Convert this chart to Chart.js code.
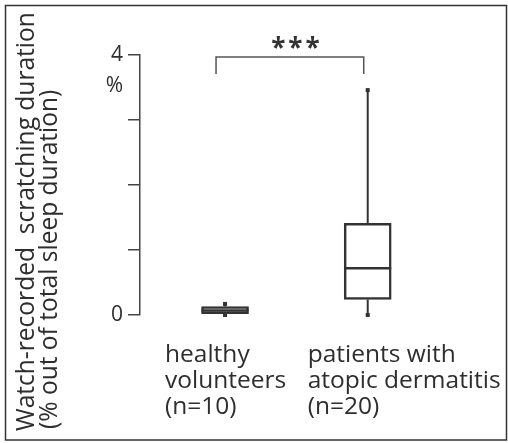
<!DOCTYPE html>
<html><head><meta charset="utf-8">
<script src="https://cdn.jsdelivr.net/npm/chart.js@4.4.1/dist/chart.umd.min.js"></script>
<style>html,body{margin:0;padding:0;background:#fff;} canvas{display:block;}</style>
</head><body>
<canvas id="c" width="508" height="443"></canvas>
<script>
// ---- data ----
const categories = [['healthy', 'volunteers', '(n=10)'], ['patients with', 'atopic dermatitis', '(n=20)']];
const whiskerMin = [0, 0];
const q1 = [0.02, 0.24];
const median = [0.07, 0.72];
const q3 = [0.13, 1.41];
const whiskerMax = [0.17, 3.46];
const yTickValues = [0, 1, 2, 3, 4];
const yTickLabels = { 0: '0', 4: ['', '4', '%'] };
const yAxisTitle = ['Watch-recorded  scratching duration', '(% out of total sleep duration)'];
const significance = '***';

const FONT = '"Open Sans", Lato, sans-serif';
const INK = '#2e2e2e';
const LINE = '#444';

const extras = {
  id: 'extras',
  afterDatasetsDraw(chart) {
    const ctx = chart.ctx, x = chart.scales.x, y = chart.scales.y;
    const half = 23.5;
    ctx.save();
    ctx.strokeStyle = '#333';
    ctx.fillStyle = '#333';
    categories.forEach((c, i) => {
      const xc = x.getPixelForValue(i + 1);
      // whiskers
      ctx.lineWidth = 2;
      ctx.beginPath();
      ctx.moveTo(xc, y.getPixelForValue(q3[i])); ctx.lineTo(xc, y.getPixelForValue(whiskerMax[i]));
      ctx.moveTo(xc, y.getPixelForValue(q1[i])); ctx.lineTo(xc, y.getPixelForValue(whiskerMin[i]));
      ctx.stroke();
      ctx.fillRect(xc - 2, y.getPixelForValue(whiskerMax[i]) - 2, 4, 4);
      ctx.fillRect(xc - 2, y.getPixelForValue(whiskerMin[i]) - 2, 4, 4);
      // median
      ctx.lineWidth = 2.5;
      ctx.beginPath();
      const ym = y.getPixelForValue(median[i]);
      ctx.moveTo(xc - half, ym); ctx.lineTo(xc + half, ym);
      ctx.stroke();
    });
    // significance bracket
    const xl = x.getPixelForValue(1) - 9, xr = x.getPixelForValue(2) - 4;
    const yt = y.getPixelForValue(4) + 2, yb = yt + 17;
    ctx.strokeStyle = '#555';
    ctx.lineWidth = 1.5;
    ctx.beginPath();
    ctx.moveTo(xl, yb); ctx.lineTo(xl, yt); ctx.lineTo(xr, yt); ctx.lineTo(xr, yb);
    ctx.stroke();
    ctx.fillStyle = '#333';
    ctx.font = 'bold 26px ' + FONT;
    ctx.textAlign = 'center';
    ctx.textBaseline = 'middle';
    try { ctx.letterSpacing = '3px'; } catch (e) {}
    ctx.fillText(significance, (xl + xr) / 2 + 7, yt - 7);
    try { ctx.letterSpacing = '0px'; } catch (e) {}
    // y axis title
    let size = 24;
    ctx.font = size + 'px ' + FONT;
    size = size * 419 / ctx.measureText(yAxisTitle[0]).width;
    ctx.font = size.toFixed(2) + 'px ' + FONT;
    ctx.fillStyle = INK;
    ctx.textAlign = 'left';
    ctx.textBaseline = 'alphabetic';
    const bases = [[34, 431], [57, 429]];
    yAxisTitle.forEach((t, k) => {
      ctx.save();
      ctx.translate(bases[k][0], bases[k][1]);
      ctx.rotate(-Math.PI / 2);
      ctx.fillText(t, 0, 0);
      ctx.restore();
    });
    // frame
    ctx.strokeStyle = '#333';
    ctx.lineWidth = 1.5;
    ctx.strokeRect(5.5, 5.5, 501, 434.5);
    ctx.restore();
  }
};

new Chart(document.getElementById('c'), {
  type: 'bar',
  data: {
    datasets: [{
      data: categories.map((c, i) => ({ x: i + 1, y: [q1[i], q3[i]] })),
      backgroundColor: '#ffffff',
      borderColor: '#333',
      borderWidth: 2.5,
      borderSkipped: false,
      barThickness: 47
    }]
  },
  options: {
    responsive: false,
    animation: false,
    devicePixelRatio: 1,
    layout: { padding: { top: 55, right: 14, bottom: 0, left: 0 } },
    plugins: { legend: { display: false }, tooltip: { enabled: false } },
    scales: {
      x: {
        type: 'linear',
        offset: false,
        min: 0.404,
        max: 2.885,
        afterBuildTicks(scale) { scale.ticks = categories.map((c, i) => ({ value: i + 1 })); },
        afterFit(scale) { scale.height = 128; scale.paddingLeft = 0; scale.paddingRight = 0; },
        grid: { display: false, drawTicks: false, offset: false },
        border: { display: false },
        ticks: {
          callback: (v) => categories[Math.round(v) - 1],
          align: 'start',
          labelOffset: -60,
          padding: 27,
          autoSkip: false,
          maxRotation: 0,
          minRotation: 0,
          color: INK,
          font: { family: FONT, size: 24.5, lineHeight: 1.06 }
        }
      },
      y: {
        min: 0,
        max: 4,
        afterBuildTicks(scale) { scale.ticks = yTickValues.map(v => ({ value: v })); },
        afterFit(scale) { scale.width = 140; scale.paddingTop = 0; scale.paddingBottom = 0; },
        grid: { drawOnChartArea: false, drawTicks: true, tickLength: 12, color: LINE, lineWidth: 1.5 },
        border: { display: true, color: LINE, width: 1.5 },
        ticks: {
          autoSkip: false,
          callback: (v) => (yTickLabels[v] !== undefined ? yTickLabels[v] : ''),
          padding: 5,
          color: INK,
          font: { family: FONT, size: 21, lineHeight: 1.5 }
        }
      }
    }
  },
  plugins: [extras]
});
</script>
</body></html>
